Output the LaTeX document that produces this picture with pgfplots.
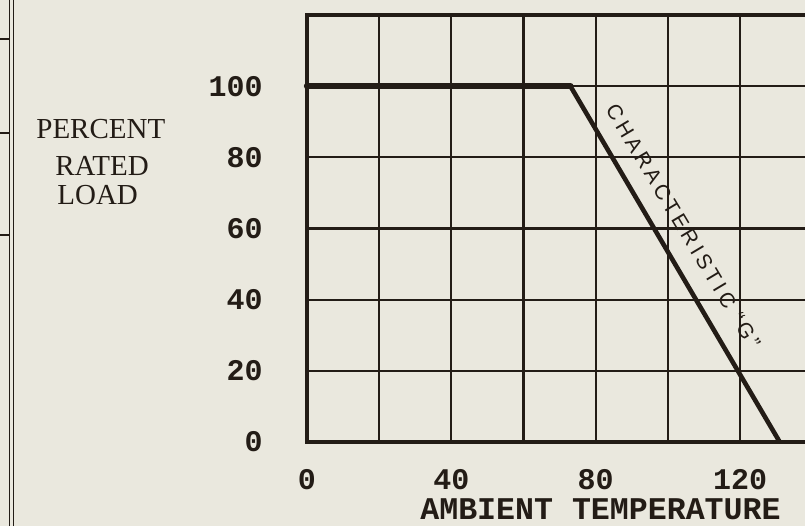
\documentclass[border=0pt]{standalone}
\usepackage{pgfplots}
\pgfplotsset{compat=1.18}
\usepackage{fontspec}
\setmainfont{Liberation Serif}
\setmonofont{Liberation Mono}
\newfontfamily\handfont[LetterSpace=18]{Liberation Sans}
\definecolor{paper}{RGB}{234,232,222}
\definecolor{ink}{RGB}{35,28,22}
\begin{document}
\begin{tikzpicture}
\useasboundingbox (-153.5pt,-42pt) rectangle (249pt,221pt);
\clip (-153.5pt,-42pt) rectangle (249pt,221pt);
\fill[paper] (-153.5pt,-42pt) rectangle (249pt,221pt);
\begin{axis}[
  at={(0,0)}, anchor=south west,
  scale only axis, width=249pt, height=213.5pt,
  xmin=0, xmax=138, ymin=0, ymax=120,
  axis lines*=left, axis line style={-, draw=none},
  xtick={0,20,...,120}, xticklabels={0,,40,,80,,120},
  ytick={0,20,...,120}, yticklabels={0,20,40,60,80,100,},
  major tick length=0pt,
  grid=major, grid style={ink, line width=1.1pt},
  xticklabel style={font=\ttfamily\bfseries\fontsize{15}{15}\selectfont, text=ink, anchor=north, inner sep=0pt, yshift=-13.5pt},
  yticklabel style={font=\ttfamily\bfseries\fontsize{15}{15}\selectfont, text=ink, anchor=east, inner sep=0pt, xshift=-22pt},
  clip=false,
]
\draw[ink, line width=2pt] (axis cs:140,120) -- (axis cs:0,120) -- (axis cs:0,0) -- (axis cs:140,0);
\addplot[ink, line width=3.2pt, line cap=round] coordinates {(0,100) (73,100)};
\addplot[ink, line width=2.3pt, line join=round] coordinates {(73,100) (131,0)};
\node[rotate=-59.1, text=ink, inner sep=0pt, font=\handfont\fontsize{10.5}{10.5}\selectfont] at (axis cs:104.3,60.5) {CHARACTERISTIC “G”};
\node[anchor=base west, inner sep=0pt, text=ink, font=\ttfamily\bfseries\fontsize{15.8}{15.8}\selectfont] at (axis cs:31.3,0) [yshift=-38.5pt] {AMBIENT TEMPERATURE};
\end{axis}
\begin{scope}[ink, font=\fontsize{14.5}{14.5}\selectfont]
\node[anchor=base west, inner sep=0pt] at (-135.5pt,152pt) {PERCENT};
\node[anchor=base west, inner sep=0pt] at (-126pt,133.5pt) {RATED};
\node[anchor=base west, inner sep=0pt] at (-125pt,118.5pt) {LOAD};
\end{scope}
\draw[ink, line width=0.6pt] (-148.9pt,-42pt) -- (-148.9pt,221pt);
\draw[ink, line width=0.6pt] (-146.9pt,-42pt) -- (-146.9pt,221pt);
\foreach \yy in {201.5pt,154.5pt,103.5pt} {
  \draw[ink, line width=0.6pt] (-153.5pt,\yy) -- (-148.9pt,\yy);
}
\end{tikzpicture}
\end{document}
